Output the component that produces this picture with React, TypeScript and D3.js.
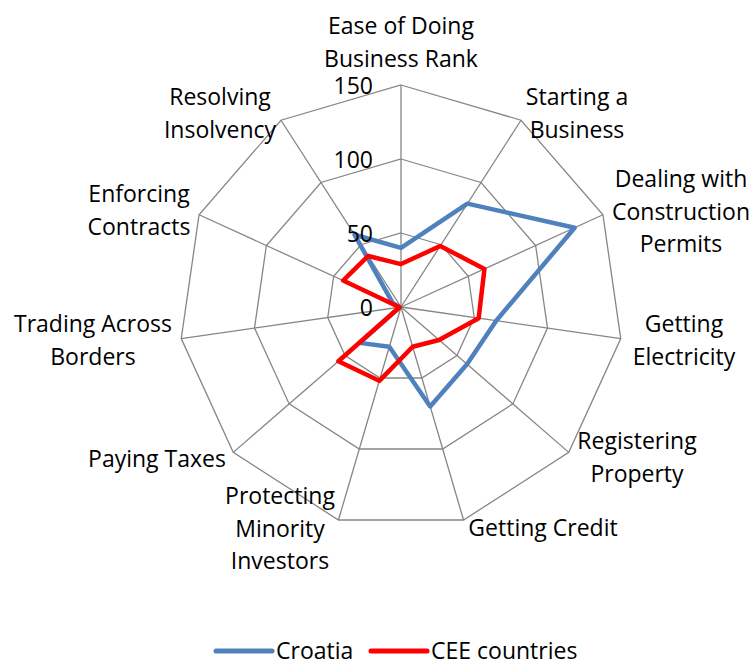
import React from "react";
import * as d3 from "d3";

const categories = [
  "Ease of Doing Business Rank",
  "Starting a Business",
  "Dealing with Construction Permits",
  "Getting Electricity",
  "Registering Property",
  "Getting Credit",
  "Protecting Minority Investors",
  "Paying Taxes",
  "Trading Across Borders",
  "Enforcing Contracts",
  "Resolving Insolvency",
];
const labelLines = [
  ["Ease of Doing", "Business Rank"],
  ["Starting a", "Business"],
  ["Dealing with", "Construction", "Permits"],
  ["Getting", "Electricity"],
  ["Registering", "Property"],
  ["Getting Credit"],
  ["Protecting", "Minority", "Investors"],
  ["Paying Taxes"],
  ["Trading Across", "Borders"],
  ["Enforcing", "Contracts"],
  ["Resolving", "Insolvency"],
];
const croatia = [40, 83, 129, 65, 59, 70, 28, 37, 1, 6, 58];
const cee = [29, 49, 62, 53, 34, 28, 52, 56, 1, 43, 41];
const ticks = [0, 50, 100, 150];
const seriesNames = ["Croatia", "CEE countries"];
const seriesColors = ["#4F81BD", "#FF0000"];

// label anchor positions (center x, first line center y)
const labelPos: [number, number][] = [
  [401, 25],
  [577, 96],
  [681, 178],
  [684, 323],
  [637, 440],
  [543, 527],
  [280, 495],
  [157, 458],
  [93, 323],
  [139, 193],
  [220, 96],
];

export default function App() {
  const W = 755, H = 661;
  const cx = 401, cy = 307, R = 222;
  const n = categories.length;
  const r = d3.scaleLinear().domain([0, 150]).range([0, R]);
  const angle = (i: number) => (i * 2 * Math.PI) / n;
  const pt = (i: number, v: number): [number, number] => {
    const a = angle(i);
    return [cx + r(v) * Math.sin(a), cy - r(v) * Math.cos(a)];
  };
  const line = d3.line<[number, number]>().curve(d3.curveLinearClosed);
  const font = "'Open Sans', sans-serif";
  const fs = 23;
  const lh = 32.5;
  const series = [croatia, cee];

  return (
    <svg width={W} height={H} style={{ position: "absolute", left: 0, top: 0 }}>
      <rect width={W} height={H} fill="#fff" />
      {ticks.filter((t) => t > 0).map((t) => (
        <path
          key={"ring" + t}
          d={line(categories.map((_, i) => pt(i, t))) || ""}
          fill="none"
          stroke="#868686"
          strokeWidth={1.3}
        />
      ))}
      {categories.map((_, i) => {
        const [x, y] = pt(i, 150);
        return <line key={"sp" + i} x1={cx} y1={cy} x2={x} y2={y} stroke="#868686" strokeWidth={1.3} />;
      })}
      {series.map((s, k) => (
        <path
          key={"s" + k}
          d={line(s.map((v, i) => pt(i, v))) || ""}
          fill="none"
          stroke={seriesColors[k]}
          strokeWidth={4.5}
          strokeLinejoin="round"
        />
      ))}
      {ticks.map((t) => (
        <text
          key={"t" + t}
          x={373}
          y={cy - r(t)}
          textAnchor="end"
          dominantBaseline="central"
          fontFamily={font}
          fontSize={fs}
          fill="#000"
        >
          {t}
        </text>
      ))}
      {labelLines.map((lines, i) => (
        <text
          key={"l" + i}
          textAnchor="middle"
          fontFamily={font}
          fontSize={fs}
          fill="#000"
        >
          {lines.map((ln, j) => (
            <tspan key={j} x={labelPos[i][0]} y={labelPos[i][1] + j * lh} dominantBaseline="central">
              {ln}
            </tspan>
          ))}
        </text>
      ))}
      {seriesNames.map((nm, k) => {
        const x0 = k === 0 ? 216 : 371;
        return (
          <g key={"lg" + k}>
            <line x1={x0} y1={651} x2={x0 + 56} y2={651} stroke={seriesColors[k]} strokeWidth={5} strokeLinecap="round" />
            <text x={x0 + 60} y={650} dominantBaseline="central" fontFamily={font} fontSize={fs} fill="#000">
              {nm}
            </text>
          </g>
        );
      })}
    </svg>
  );
}
